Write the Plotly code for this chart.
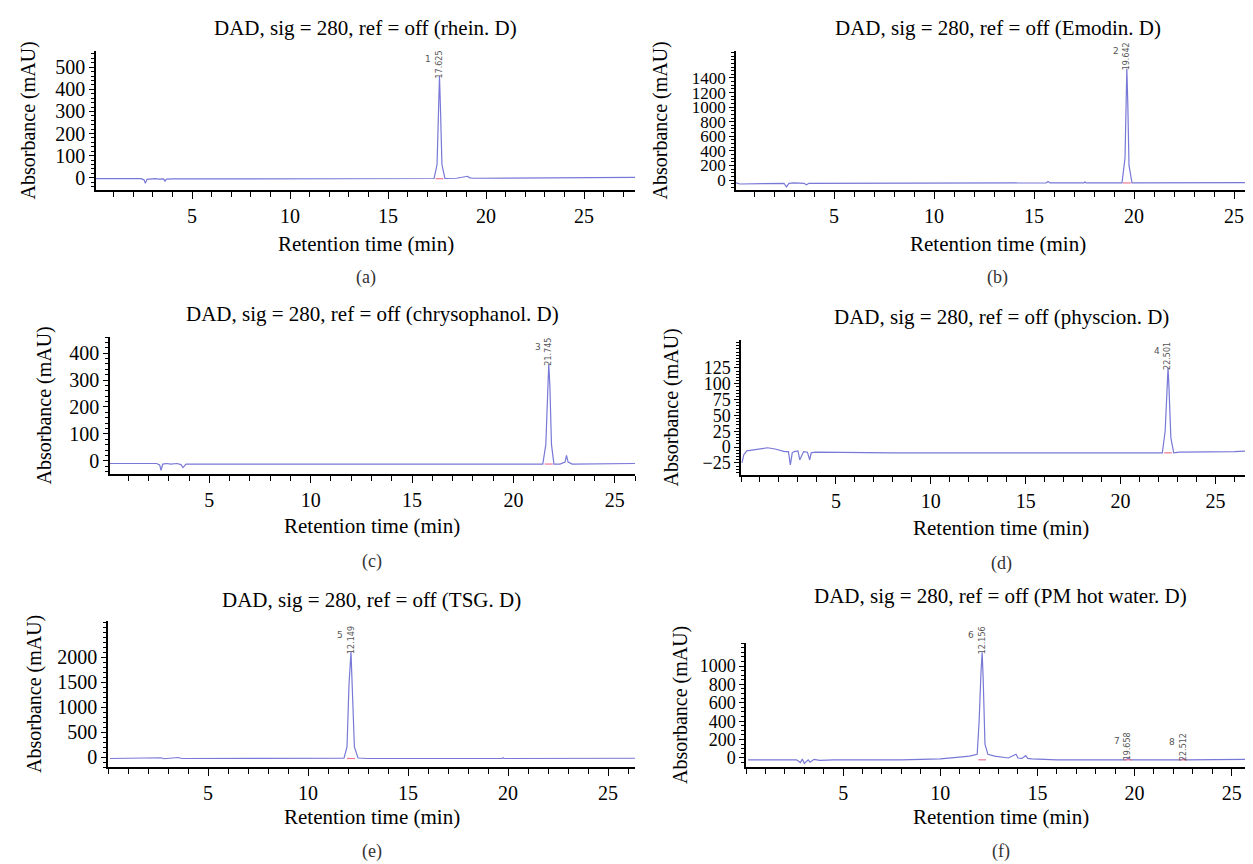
import plotly.graph_objects as go

W, H = 1253, 864

# ---------------- data ----------------
titles = [
    "DAD, sig = 280, ref = off (rhein. D)",
    "DAD, sig = 280, ref = off (Emodin. D)",
    "DAD, sig = 280, ref = off (chrysophanol. D)",
    "DAD, sig = 280, ref = off (physcion. D)",
    "DAD, sig = 280, ref = off (TSG. D)",
    "DAD, sig = 280, ref = off (PM hot water. D)",
]
panel_tags = ["(a)", "(b)", "(c)", "(d)", "(e)", "(f)"]
x_title = "Retention time (min)"
y_title = "Absorbance (mAU)"

rhein_t = [0.1, 2.4, 2.55, 2.62, 2.7, 2.9, 3.1, 3.3, 3.55, 3.62, 3.7, 4.0, 8.0, 12.0,
           17.35, 17.5, 17.58, 17.625, 17.67, 17.75, 17.9, 18.5, 19.05, 19.15, 19.3, 24.0, 27.6]
rhein_v = [-4, -4, -9, -25, -7, -5, -4, -6, -5, -15, -6, -5, -4, -4,
           -3, 60, 300, 460, 330, 60, -3, -2, 7, 1, -2, -1, 2]

emodin_t = [0.1, 0.3, 2.5, 2.62, 2.75, 3.0, 3.5, 3.62, 3.75, 8.0, 15.6, 15.7, 15.8, 17.5, 17.55, 17.6,
            19.4, 19.55, 19.6, 19.642, 19.69, 19.75, 19.9, 22.0, 26.3]
emodin_v = [-40, -55, -45, -95, -45, -40, -45, -65, -45, -45, -40, -20, -40, -40, -25, -40,
            -40, 300, 1150, 1530, 1050, 200, -40, -40, -35]

chryso_t = [0.1, 2.4, 2.55, 2.62, 2.7, 2.9, 3.1, 3.4, 3.6, 3.7, 3.85, 4.0, 10.0, 18.0,
            21.45, 21.6, 21.7, 21.745, 21.8, 21.88, 22.0, 22.3, 22.55, 22.62, 22.7, 22.9, 26.0]
chryso_v = [-10, -10, -15, -35, -12, -10, -12, -10, -14, -25, -12, -12, -12, -12,
            -12, 60, 280, 360, 280, 60, -12, -12, -5, 20, -5, -12, -10]

physc_t = [0.05, 0.15, 0.3, 0.5, 1.0, 1.4, 1.8, 2.3, 2.5, 2.6, 2.7, 2.8, 3.0, 3.1, 3.3, 3.5, 3.62,
           3.7, 3.9, 8.0, 15.0, 22.2, 22.35, 22.45, 22.501, 22.55, 22.65, 22.8, 23.1, 26.0, 27.4]
physc_v = [-25, -12, -6, -5, -3, -1, -3, -7, -7, -28, -9, -7, -6, -20, -7, -8, -20,
           -9, -8, -9, -9, -9, 25, 105, 125, 95, 15, -9, -8, -7, -5]

tsg_t = [0.1, 2.5, 2.65, 2.8, 3.0, 3.3, 3.5, 3.7, 4.0, 8.0, 11.8, 11.95, 12.05, 12.149,
         12.22, 12.32, 12.5, 13.0, 19.7, 19.75, 19.8, 24.0, 26.35]
tsg_v = [-30, -30, -15, -35, -30, -25, -10, -30, -30, -30, -25, 200, 1450, 2100,
         1450, 200, -20, -30, -30, -15, -30, -30, -25]

pm_t = [0.1, 2.6, 2.8, 2.9, 3.0, 3.2, 3.3, 3.5, 3.8, 4.5, 8.0, 10.0, 11.0, 11.5, 11.9, 12.0,
        12.1, 12.156, 12.21, 12.3, 12.45, 12.8, 13.5, 13.9, 14.0, 14.2, 14.4, 14.5, 14.7, 16.0,
        19.55, 19.658, 19.8, 22.4, 22.512, 22.65, 26.2]
pm_v = [-20, -20, -50, -10, -60, -20, -45, -15, -25, -20, -20, -10, 10, 20, 40, 400,
        950, 1150, 850, 150, 40, 20, 0, 40, 0, -5, 25, -5, -10, -20,
        -20, -5, -20, -20, -8, -20, -15]

peak_times = [[17.625], [19.642], [21.745], [22.501], [12.149], [12.156, 19.658, 22.512]]
peak_heights = [[460], [1530], [360], [125], [2100], [1150, -5, -8]]
peak_bases = [[-4], [-40], [-12], [-9], [-30], [-20, -20, -20]]
peak_numbers = [["1"], ["2"], ["3"], ["4"], ["5"], ["6", "7", "8"]]
peak_labels = [["17.625"], ["19.642"], ["21.745"], ["22.501"], ["12.149"], ["12.156", "19.658", "22.512"]]

x_ranges = [[0.1, 27.6], [0.1, 26.25], [0.1, 26.0], [0.0, 27.4], [0.0, 26.35], [0.0, 26.2]]
y_ranges = [[-55, 573], [-137, 1770], [-49, 460], [-44, 169], [-200, 2720], [-98, 1250]]
y_ticks = [
    [0, 100, 200, 300, 400, 500],
    [0, 200, 400, 600, 800, 1000, 1200, 1400],
    [0, 100, 200, 300, 400],
    [-25, 0, 25, 50, 75, 100, 125],
    [0, 500, 1000, 1500, 2000],
    [0, 200, 400, 600, 800, 1000],
]
y_minor = [20, 50, 20, 5, 100, 50]
y_tick_font = [20, 17, 20, 18, 20, 18]
x_ticks = [5, 10, 15, 20, 25]

series_t = [rhein_t, emodin_t, chryso_t, physc_t, tsg_t, pm_t]
series_v = [rhein_v, emodin_v, chryso_v, physc_v, tsg_v, pm_v]

# ---------------- layout (pixel boxes) ----------------
boxes = [(88, 627, 43, 182), (728, 1251, 43, 182),
         (102, 627, 329, 466), (733, 1253, 332, 467),
         (100, 627, 613, 759), (738, 1247, 635, 759)]
title_y = [20, 20, 306, 309, 592, 588]
ylab_x = [20, 652, 36, 663, 26, 672]
xt_y = [236, 236, 518, 520, 809, 809]
tag_y = [269, 269, 553, 555, 843, 843]

FONT = "Liberation Serif"
LINE = "rgb(120,120,215)"


def px(x):
    return x / W


def py(y):
    return 1 - y / H


fig = go.Figure()
annotations = []
for i in range(6):
    n = "" if i == 0 else str(i + 1)
    x0, x1, y0, y1 = boxes[i]
    fig.add_trace(go.Scatter(x=series_t[i], y=series_v[i], mode="lines",
                             line=dict(color=LINE, width=1.2),
                             xaxis="x" + n, yaxis="y" + n, showlegend=False,
                             hoverinfo="skip"))
    # pink integration markers at peak bases
    for pt, pb in zip(peak_times[i], peak_bases[i]):
        fig.add_trace(go.Scatter(x=[pt - 0.2, pt + 0.2], y=[pb, pb], mode="lines",
                                 line=dict(color="rgb(235,120,150)", width=1.2),
                                 xaxis="x" + n, yaxis="y" + n, showlegend=False,
                                 hoverinfo="skip"))
    fig.update_layout(**{
        "xaxis" + n: dict(domain=[px(x0), px(x1)], range=x_ranges[i], anchor="y" + n,
                          showline=True, linecolor="black", linewidth=1.5, mirror=False,
                          ticks="outside", ticklen=7, tickwidth=1.3, tickcolor="black",
                          tickvals=x_ticks, showgrid=False, zeroline=False,
                          tickfont=dict(family=FONT, size=20, color="black"),
                          minor=dict(dtick=1, tick0=0, ticks="outside", ticklen=5,
                                     tickwidth=1.2, tickcolor="black", showgrid=False)),
        "yaxis" + n: dict(domain=[py(y1), py(y0)], range=y_ranges[i], anchor="x" + n,
                          showline=True, linecolor="black", linewidth=1.5,
                          ticks="outside", ticklen=5, tickwidth=1.3, tickcolor="black",
                          tickvals=y_ticks[i], showgrid=False, zeroline=False,
                          tickfont=dict(family=FONT, size=y_tick_font[i], color="black"),
                          minor=dict(dtick=y_minor[i], tick0=0, ticks="outside", ticklen=3,
                                     tickwidth=1, tickcolor="black", showgrid=False)),
    })
    xc = (x0 + x1) / 2
    annotations.append(dict(text=titles[i], x=px(xc), y=py(title_y[i]), xref="paper",
                            yref="paper", showarrow=False, xanchor="center", yanchor="middle",
                            font=dict(family=FONT, size=21, color="black")))
    annotations.append(dict(text=x_title, x=px(xc), y=py(xt_y[i]), xref="paper",
                            yref="paper", showarrow=False, xanchor="center", yanchor="middle",
                            font=dict(family=FONT, size=21, color="black")))
    annotations.append(dict(text=panel_tags[i], x=px(xc), y=py(tag_y[i]), xref="paper",
                            yref="paper", showarrow=False, xanchor="center", yanchor="middle",
                            font=dict(family=FONT, size=18, color="#333")))
    annotations.append(dict(text=y_title, x=px(ylab_x[i]), y=py((y0 + y1) / 2), xref="paper",
                            yref="paper", showarrow=False, textangle=-90,
                            xanchor="center", yanchor="middle",
                            font=dict(family=FONT, size=20, color="black")))
    for pt, ph, num, lab in zip(peak_times[i], peak_heights[i], peak_numbers[i], peak_labels[i]):
        annotations.append(dict(text=lab, x=pt, y=ph, xref="x" + n, yref="y" + n,
                                showarrow=False, textangle=-90, xanchor="center",
                                yanchor="bottom", yshift=-4,
                                font=dict(family="DejaVu Sans", size=8, color="#555")))
        annotations.append(dict(text=num, x=pt, y=ph, xref="x" + n, yref="y" + n,
                                showarrow=False, xanchor="right", yanchor="middle",
                                xshift=-6, yshift=17,
                                font=dict(family="DejaVu Sans", size=9, color="#555")))

fig.update_layout(width=W, height=H, margin=dict(l=0, r=0, t=0, b=0),
                  paper_bgcolor="white", plot_bgcolor="white",
                  annotations=annotations, showlegend=False)

fig.write_html("out.html")
